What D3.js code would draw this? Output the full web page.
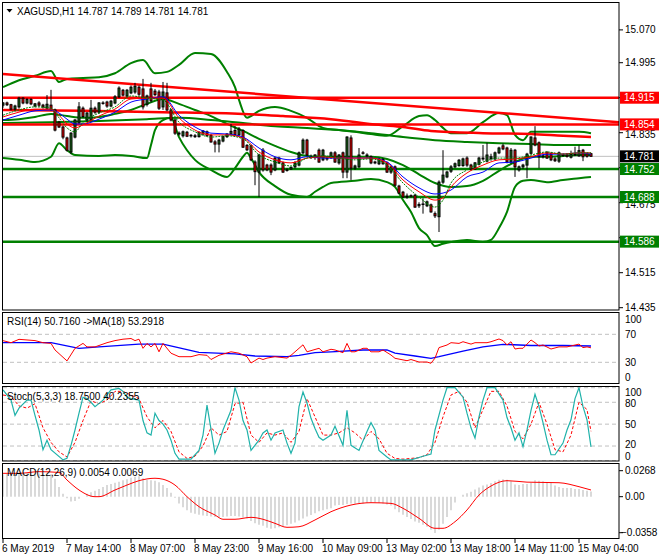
<!DOCTYPE html>
<html>
<head>
<meta charset="utf-8" />
<script src="https://cdn.jsdelivr.net/npm/d3@7"></script>
<style>
  body { margin: 0; background: #fff; }
  text { font-family: "Liberation Sans", Arial, sans-serif; font-size: 10px; fill: #000; }
</style>
</head>
<body>
<script>
  // XAGUSD H1 candles (bar 0 = 6 May 2019 ... bar 147 = 15 May 07:00)
  var open = [14.898,14.903,14.899,14.889,14.894,14.914,14.903,14.911,14.896,14.903,14.898,14.891,14.898,14.887,14.859,14.848,14.823,14.791,14.825,14.859,
    14.891,14.864,14.864,14.891,14.882,14.903,14.905,14.896,14.903,14.917,14.932,14.919,14.926,14.928,14.939,14.935,14.900,14.935,14.930,14.928,
    14.894,14.926,14.887,14.864,14.834,14.828,14.836,14.828,14.828,14.826,14.832,14.837,14.829,14.814,14.809,14.816,14.826,14.832,14.840,14.830,
    14.840,14.806,14.805,14.768,14.745,14.795,14.761,14.761,14.750,14.777,14.766,14.750,14.752,14.757,14.761,14.789,14.818,14.780,14.778,14.795,
    14.773,14.776,14.778,14.789,14.766,14.789,14.745,14.823,14.754,14.757,14.789,14.784,14.780,14.768,14.764,14.774,14.766,14.745,14.757,14.713,
    14.699,14.690,14.691,14.692,14.668,14.671,14.668,14.670,14.650,14.643,14.722,14.734,14.747,14.757,14.760,14.760,14.777,14.761,14.752,14.763,
    14.775,14.770,14.776,14.775,14.789,14.805,14.800,14.768,14.795,14.750,14.757,14.761,14.788,14.823,14.812,14.780,14.790,14.787,14.775,14.770,
    14.784,14.784,14.779,14.786,14.782,14.795,14.787,14.787];
  var high = [14.905,14.906,14.901,14.899,14.917,14.916,14.914,14.914,14.903,14.907,14.901,14.921,14.933,14.890,14.862,14.851,14.826,14.836,14.866,14.905,
    14.895,14.882,14.910,14.895,14.905,14.907,14.908,14.910,14.921,14.941,14.935,14.935,14.943,14.949,14.943,14.958,14.922,14.949,14.935,14.933,
    14.951,14.949,14.890,14.867,14.838,14.840,14.839,14.832,14.832,14.838,14.841,14.840,14.832,14.818,14.821,14.828,14.834,14.855,14.850,14.848,
    14.843,14.809,14.808,14.772,14.787,14.800,14.764,14.765,14.780,14.780,14.769,14.754,14.757,14.770,14.792,14.822,14.821,14.785,14.786,14.799,
    14.798,14.780,14.792,14.793,14.786,14.792,14.827,14.829,14.762,14.800,14.793,14.788,14.783,14.771,14.778,14.777,14.769,14.760,14.760,14.716,
    14.702,14.696,14.694,14.695,14.676,14.685,14.680,14.673,14.655,14.726,14.795,14.748,14.761,14.767,14.775,14.778,14.781,14.764,14.768,14.780,
    14.807,14.812,14.787,14.792,14.803,14.810,14.803,14.800,14.798,14.760,14.764,14.789,14.827,14.850,14.815,14.784,14.793,14.790,14.779,14.792,
    14.788,14.787,14.794,14.803,14.806,14.798,14.790,14.789];
  var low = [14.892,14.896,14.886,14.885,14.890,14.900,14.900,14.898,14.893,14.894,14.890,14.888,14.885,14.838,14.846,14.820,14.792,14.786,14.822,14.855,
    14.869,14.860,14.861,14.878,14.878,14.899,14.892,14.893,14.900,14.914,14.918,14.916,14.923,14.924,14.919,14.888,14.895,14.904,14.919,14.887,
    14.887,14.884,14.861,14.830,14.828,14.824,14.825,14.824,14.823,14.824,14.829,14.826,14.812,14.790,14.790,14.813,14.823,14.830,14.828,14.827,
    14.800,14.793,14.770,14.715,14.688,14.746,14.747,14.738,14.747,14.764,14.743,14.746,14.750,14.753,14.758,14.786,14.782,14.775,14.773,14.766,
    14.770,14.771,14.775,14.766,14.762,14.731,14.731,14.727,14.750,14.754,14.785,14.778,14.763,14.763,14.761,14.762,14.743,14.741,14.712,14.695,
    14.686,14.684,14.687,14.663,14.663,14.650,14.665,14.652,14.640,14.608,14.718,14.731,14.743,14.754,14.757,14.757,14.757,14.748,14.750,14.760,
    14.771,14.767,14.771,14.772,14.786,14.795,14.765,14.764,14.734,14.746,14.752,14.731,14.785,14.804,14.754,14.776,14.775,14.770,14.768,14.766,
    14.780,14.778,14.776,14.782,14.780,14.770,14.778,14.781];
  var close = [14.903,14.899,14.889,14.896,14.914,14.903,14.911,14.901,14.901,14.898,14.894,14.900,14.889,14.841,14.848,14.825,14.795,14.834,14.864,14.894,
    14.872,14.880,14.891,14.882,14.903,14.902,14.896,14.907,14.917,14.937,14.921,14.932,14.939,14.941,14.923,14.894,14.919,14.908,14.922,14.891,
    14.928,14.887,14.864,14.834,14.832,14.837,14.827,14.829,14.826,14.836,14.839,14.829,14.814,14.809,14.818,14.826,14.832,14.838,14.831,14.843,
    14.802,14.796,14.773,14.746,14.784,14.750,14.750,14.745,14.777,14.766,14.745,14.750,14.756,14.766,14.789,14.818,14.784,14.778,14.784,14.768,
    14.795,14.775,14.789,14.768,14.784,14.745,14.825,14.754,14.759,14.784,14.788,14.782,14.766,14.766,14.775,14.764,14.745,14.757,14.715,14.697,
    14.688,14.688,14.690,14.665,14.671,14.672,14.677,14.654,14.645,14.722,14.738,14.745,14.757,14.764,14.772,14.775,14.761,14.752,14.766,14.777,
    14.777,14.784,14.780,14.789,14.800,14.798,14.768,14.795,14.757,14.757,14.761,14.786,14.825,14.807,14.780,14.782,14.777,14.773,14.771,14.789,
    14.783,14.781,14.786,14.784,14.794,14.780,14.781,14.781];

  // Bollinger bands (20)
  var bbUpIdx = [0,4,8,12,14,16,20,24,28,32,35,38,41,44,48,52,56,58,59,61,62,64,68,72,76,80,84,88,92,96,100,104,106,108,110,112,116,120,124,126,128,130,132,136,140,144,147];
  var bbUp = [14.939,14.955,14.965,14.976,14.951,14.958,14.960,14.962,14.971,14.994,15.001,14.971,14.974,14.990,15.017,15.015,14.974,14.939,14.910,14.869,
    14.873,14.885,14.894,14.885,14.869,14.846,14.841,14.837,14.832,14.828,14.850,14.873,14.875,14.864,14.846,14.834,14.834,14.859,14.880,14.875,
    14.830,14.818,14.837,14.837,14.837,14.837,14.834];
  var bbLoIdx = [0,4,8,12,14,16,18,24,28,32,36,37,38,40,42,44,46,48,52,56,58,60,61,62,64,68,72,76,78,80,82,88,92,96,98,100,102,104,106,108,110,112,116,120,122,124,126,128,130,132,136,140,144,147];
  var bbLo = [14.777,14.773,14.768,14.780,14.811,14.795,14.784,14.782,14.784,14.782,14.777,14.807,14.841,14.864,14.869,14.825,14.795,14.773,14.750,14.734,
    14.754,14.780,14.789,14.777,14.745,14.713,14.693,14.688,14.700,14.711,14.720,14.725,14.729,14.722,14.711,14.681,14.654,14.617,14.601,14.576,
    14.581,14.585,14.590,14.585,14.590,14.617,14.654,14.711,14.725,14.727,14.722,14.727,14.731,14.734];
  var bbMidIdx = [0,4,8,12,16,20,24,28,32,36,40,44,48,52,56,60,64,68,72,76,80,88,92,96,100,104,108,112,116,120,124,128,132,136,140,144,147];
  var bbMid = [14.864,14.866,14.871,14.878,14.873,14.869,14.871,14.878,14.887,14.901,14.912,14.901,14.887,14.873,14.855,14.839,14.821,14.805,14.791,14.782,
    14.780,14.780,14.780,14.775,14.761,14.740,14.720,14.711,14.713,14.725,14.748,14.768,14.780,14.780,14.782,14.784,14.784];

  // slow averages
  var slowIdx = [0,12,24,36,44,52,60,68,76,84,92,100,108,116,124,132,140,147];
  var slowMa = [14.857,14.859,14.862,14.866,14.869,14.864,14.857,14.850,14.846,14.841,14.834,14.825,14.818,14.814,14.811,14.809,14.807,14.807];
  var redMaIdx = [0,20,40,60,70,82,94,100,107,120,132,140,147];
  var redMa = [14.887,14.885,14.882,14.878,14.873,14.866,14.853,14.848,14.839,14.834,14.832,14.828,14.825];

  // fast averages (green fastest, blue slowest)
  var maIdx = [0,4,8,12,14,16,18,20,24,28,32,36,40,44,48,52,56,60,64,68,72,76,80,84,88,92,96,100,104,108,110,112,116,120,124,128,132,136,140,144,147];
  var maG = [14.875,14.887,14.894,14.891,14.869,14.846,14.837,14.859,14.880,14.894,14.919,14.914,14.910,14.859,14.837,14.825,14.828,14.821,14.784,14.768,
    14.759,14.777,14.782,14.777,14.773,14.775,14.761,14.720,14.688,14.665,14.681,14.720,14.750,14.768,14.777,14.777,14.784,14.791,14.786,14.789,14.789];
  var maR = [14.871,14.882,14.889,14.889,14.875,14.855,14.846,14.853,14.873,14.889,14.912,14.914,14.914,14.869,14.841,14.830,14.830,14.823,14.791,14.773,
    14.766,14.777,14.780,14.777,14.777,14.777,14.766,14.727,14.700,14.681,14.686,14.711,14.743,14.761,14.773,14.775,14.780,14.789,14.786,14.789,14.789];
  var maB = [14.864,14.875,14.885,14.887,14.880,14.866,14.855,14.855,14.866,14.882,14.905,14.912,14.917,14.875,14.848,14.834,14.832,14.825,14.800,14.780,
    14.773,14.780,14.777,14.777,14.777,14.777,14.768,14.734,14.709,14.695,14.697,14.704,14.734,14.745,14.766,14.768,14.777,14.786,14.786,14.789,14.786];

  // levels and trendline
  var redLevels = [14.915, 14.854];
  var greenLevels = [14.752, 14.688, 14.586];
  var lastPrice = 14.781;
  var trendT = [0, 154];
  var trendP = [14.969, 14.859];
  var priceTicks = [15.070, 14.995, 14.915, 14.835, 14.755, 14.675, 14.595, 14.515, 14.435];
  var hiddenTicks = [14.915, 14.755, 14.595];   // fully under the coloured price boxes

  // RSI(14) and its MA(18)
  var rsiIdx = [0,2,4,8,10,12,13,16,18,20,21,23,26,28,30,32,33,34,35,36,37,38,39,40,42,44,47,49,51,52,54,57,59,61,62,64,65,66,68,71,
    72,75,76,79,80,82,83,85,86,87,88,90,91,92,94,95,97,98,101,102,104,106,107,108,109,111,112,114,115,117,118,121,122,124,125,126,127,128,129,130,
    132,133,134,135,137,139,141,144,145,146,147];
  var rsiVal = [60.9,58,62.8,61,58,57,47.6,32,50,57,52,52,58,61,63,64,61,63,50,57,52,57,45,57,43,38,38,41,40,34,40,45,43,38,29,36,34,36,38,36,
    40,55,45,50,45,48.6,47.6,43.7,57,45,45,50,50,45,45,47.6,40.4,35.7,32.3,34,30.4,30.4,28.6,36,51,54.7,58,57,59.4,56,58,58,59.4,63.3,61,54.7,59.4,49,50,50,
    61.9,58,53.3,54.7,49,52,52,56,51,52,50.7];
  var rsiMaIdx = [0,12,19,24,34,40,43,49,58,63,71,74,78,82,90,96,98,103,107,109,115,120,125,132,140,147];
  var rsiMa = [58,58,50,52,56,56,52,44.3,42,39,38,40,43.7,45,47.6,47.6,43,39,35.7,38,46,52,55.7,54,54,53.3];

  // Stochastic(5,3,3)
  var stochKIdx = [0,2,3,4,6,7,8,9,10,11,12,15,16,17,18,19,20,21,22,23,25,26,27,29,30,31,32,34,35,36,37,38,39,40,41,42,43,44,47,49,
    50,51,53,54,55,57,58,59,60,61,62,64,65,66,67,68,70,71,72,73,74,75,76,77,78,79,80,82,83,85,86,87,89,91,92,93,94,96,97,102,
    105,107,108,110,111,113,115,116,117,118,119,120,121,123,125,126,127,128,129,130,131,132,133,134,135,136,137,138,140,141,142,143,144,145,146,147];
  var stochK = [97,83,62,72,83,83,62,42,15,28,15,1,3,21,42,65,87,85,80,74,83,90,97,99,95,87,85,83,55,38,35,65,55,50,42,28,10,2,2,14,
    35,76,10,24,42,69,100,83,55,42,14,28,38,42,28,38,42,24,10,24,74,94,79,58,44,32,28,35,47,21,69,21,14,40,52,42,14,5,1,1,
    6,9,42,83,100,100,87,65,45,31,60,83,100,100,83,59,45,28,38,19,42,69,91,74,52,28,8,8,24,42,56,85,100,74,56,18.75];
  var stochDIdx = [0,2,4,6,8,10,12,14,16,18,20,22,24,26,28,30,32,34,36,38,40,42,44,46,48,50,52,54,56,58,60,62,64,66,68,70,72,74,76,78,
    80,82,84,86,88,90,92,94,96,98,100,104,106,108,110,112,114,116,118,120,122,124,126,128,130,132,134,136,138,140,142,144,146,147];
  var stochD = [90,88,75,72,78,45,25,12,5,25,55,82,78,83,95,95,90,85,60,45,55,40,12,3,6,20,45,35,40,78,80,35,25,38,35,38,25,40,85,60,
    35,35,38,45,38,28,40,30,10,3,2,4,8,25,60,90,95,80,45,70,95,95,75,40,30,50,80,50,15,12,35,80,70,40.2];

  // MACD(12,26,9): histogram per bar, signal read at points
  var macdHist = [0.0232,0.0235,0.0236,0.0237,0.0238,0.0240,0.0241,0.0241,0.0242,0.0240,
    0.0238,0.0236,0.0232,0.0185,0.0100,0.0030,-0.0015,-0.0050,-0.0045,-0.0020,
    0.0000,0.0030,0.0045,0.0060,0.0080,0.0100,0.0120,0.0130,0.0145,0.0155,
    0.0170,0.0180,0.0195,0.0205,0.0210,0.0190,0.0172,0.0170,0.0165,0.0150,
    0.0120,0.0090,0.0040,-0.0010,-0.0070,-0.0110,-0.0140,-0.0165,-0.0175,-0.0185,
    -0.0195,-0.0200,-0.0205,-0.0210,-0.0212,-0.0210,-0.0205,-0.0200,-0.0200,-0.0205,
    -0.0215,-0.0225,-0.0250,-0.0275,-0.0290,-0.0300,-0.0320,-0.0330,-0.0325,-0.0315,
    -0.0305,-0.0295,-0.0280,-0.0265,-0.0245,-0.0225,-0.0205,-0.0190,-0.0170,-0.0150,
    -0.0140,-0.0130,-0.0120,-0.0090,-0.0085,-0.0085,-0.0075,-0.0070,-0.0072,-0.0070,
    -0.0070,-0.0065,-0.0062,-0.0060,-0.0065,-0.0070,-0.0080,-0.0090,-0.0130,-0.0160,
    -0.0185,-0.0210,-0.0230,-0.0255,-0.0270,-0.0290,-0.0310,-0.0340,-0.0375,-0.0340,
    -0.0280,-0.0210,-0.0140,-0.0060,0.0000,0.0020,0.0035,0.0050,0.0075,0.0095,
    0.0115,0.0125,0.0140,0.0160,0.0175,0.0180,0.0175,0.0160,0.0125,0.0120,
    0.0130,0.0130,0.0140,0.0170,0.0165,0.0160,0.0150,0.0140,0.0115,0.0100,
    0.0090,0.0090,0.0090,0.0080,0.0078,0.0070,0.0062,0.0054];
  var sigIdx = [0,4,9,14,16,19,23,24,28,31,34,38,40,43,46,49,53,55,58,62,65,68,71,74,78,82,87,92,97,100,104,108,110,113,116,119,122,126,131,139,144,147];
  var sigVal = [0.0241,0.0241,0.0258,0.0250,0.0172,0.0069,0.0,0.0,0.0069,0.012,0.0165,0.019,0.018,0.012,0.0,-0.0103,-0.0189,-0.0233,-0.0233,-0.0213,
    -0.0233,-0.0275,-0.0316,-0.031,-0.024,-0.0155,-0.0086,-0.0062,-0.0069,-0.012,-0.0223,-0.0326,-0.0326,-0.0258,-0.0137,0.0017,0.011,0.0165,0.015,0.0144,
    0.0103,0.0069];

  // time axis
  var tickBars = [0,16,32,48,64,80,96,112,128,144];
  var tickText = ["6 May 2019","7 May 14:00","8 May 07:00","8 May 23:00","9 May 16:00","10 May 09:00","13 May 02:00","13 May 18:00","14 May 11:00","15 May 04:00"];

  //-------------------------------------------

  var W = 660, H = 560, R = 619;
  var svg = d3.select("body").append("svg").attr("width", W).attr("height", H);

  var x = d3.scaleLinear().domain([0, 147]).range([3, 591]);
  var yP = d3.scaleLinear().domain([14.435, 15.070]).range([307.7, 29.9]);
  var yR = d3.scaleLinear().domain([0, 100]).range([383.3, 313.3]);
  var yS = d3.scaleLinear().domain([0, 100]).range([460.6, 387.7]);
  var yM = d3.scaleLinear().domain([-0.0358, 0.0268]).range([531.4, 470.7]);

  var panels = [
    {id: "pMain", y0: 2.5, y1: 310},
    {id: "pRsi", y0: 312.5, y1: 383.5},
    {id: "pSto", y0: 386.5, y1: 461},
    {id: "pMacd", y0: 463.5, y1: 538.5}
  ];
  var defs = svg.append("defs");
  panels.forEach(function(p) {
    defs.append("clipPath").attr("id", p.id).append("rect")
        .attr("x", 2.5).attr("y", p.y0).attr("width", R - 2.5).attr("height", p.y1 - p.y0);
  });

  function pts(idx, vals) { return d3.zip(idx, vals); }
  function drawLine(g, data, ys, color, width, dash, curve) {
    var line = d3.line().x(function(d) { return x(d[0]); }).y(function(d) { return ys(d[1]); })
                 .curve(curve || d3.curveLinear);
    var p = g.append("path").datum(data).attr("d", line).attr("fill", "none")
             .attr("stroke", color).attr("stroke-width", width);
    if (dash) p.attr("stroke-dasharray", dash);
    return p;
  }

  // ---- main panel
  var gm = svg.append("g").attr("clip-path", "url(#pMain)");

  gm.append("line").attr("x1", 2).attr("x2", R).attr("y1", yP(lastPrice)).attr("y2", yP(lastPrice))
    .attr("stroke", "#c0c0c0").attr("stroke-width", 1);

  gm.selectAll(".glev").data(greenLevels).enter().append("line")
    .attr("x1", 2).attr("x2", R).attr("y1", function(d) { return yP(d); }).attr("y2", function(d) { return yP(d); })
    .attr("stroke", "#008000").attr("stroke-width", 2.5);

  var smooth = d3.curveMonotoneX;
  drawLine(gm, pts(bbUpIdx, bbUp), yP, "#008000", 2, null, smooth);
  drawLine(gm, pts(bbLoIdx, bbLo), yP, "#008000", 2, null, smooth);
  drawLine(gm, pts(bbMidIdx, bbMid), yP, "#008000", 2, null, smooth);
  drawLine(gm, pts(slowIdx, slowMa), yP, "#008000", 2, null, smooth);

  gm.selectAll(".rlev").data(redLevels).enter().append("line")
    .attr("x1", 2).attr("x2", R).attr("y1", function(d) { return yP(d); }).attr("y2", function(d) { return yP(d); })
    .attr("stroke", "#ff0000").attr("stroke-width", 2.5);
  drawLine(gm, pts(trendT, trendP), yP, "#ff0000", 2.5);
  drawLine(gm, pts(redMaIdx, redMa), yP, "#ff0000", 2.5, null, smooth);

  // candles
  var bars = d3.range(open.length);
  gm.selectAll(".wick").data(bars).enter().append("line")
    .attr("x1", function(i) { return x(i); }).attr("x2", function(i) { return x(i); })
    .attr("y1", function(i) { return yP(high[i]); }).attr("y2", function(i) { return yP(low[i]); })
    .attr("stroke", "#000").attr("stroke-width", 1);
  gm.selectAll(".body").data(bars).enter().append("rect")
    .attr("x", function(i) { return x(i) - 1; })
    .attr("width", 2)
    .attr("y", function(i) { return yP(Math.max(open[i], close[i])); })
    .attr("height", function(i) { return Math.max(0.5, Math.abs(yP(open[i]) - yP(close[i]))); })
    .attr("fill", function(i) { return close[i] > open[i] ? "#1c6e1c" : (close[i] < open[i] ? "#ff0000" : "#000"); })
    .attr("stroke", "#000").attr("stroke-width", 1);

  drawLine(gm, pts(maIdx, maB), yP, "#0000ff", 1, null, smooth);
  drawLine(gm, pts(maIdx, maR), yP, "#ff0000", 1, null, smooth);
  drawLine(gm, pts(maIdx, maG), yP, "#008000", 1, "2,1", smooth);

  svg.append("path").attr("d", "M6.5,9 L12.5,9 L9.5,12.5 Z").attr("fill", "#000");
  svg.append("text").attr("x", 17).attr("y", 14.5)
     .text("XAGUSD,H1  " + [open[147], high[147], low[147], close[147]].map(d3.format(".3f")).join(" "));

  // ---- RSI
  var gr = svg.append("g").attr("clip-path", "url(#pRsi)");
  gr.selectAll(".lv").data([70, 30]).enter().append("line")
    .attr("x1", 3).attr("x2", R).attr("y1", function(d) { return yR(d); }).attr("y2", function(d) { return yR(d); })
    .attr("stroke", "#c0c0c0").attr("stroke-dasharray", "4,3");
  drawLine(gr, pts(rsiMaIdx, rsiMa), yR, "#0000ff", 1.3);
  drawLine(gr, pts(rsiIdx, rsiVal), yR, "#ff0000", 1);
  svg.append("text").attr("x", 7).attr("y", 325).text("RSI(14) 50.7160  ->MA(18) 53.2918");

  // ---- Stochastic
  var gs = svg.append("g").attr("clip-path", "url(#pSto)");
  gs.selectAll(".lv").data([100, 80, 50, 20, 0]).enter().append("line")
    .attr("x1", 3).attr("x2", R).attr("y1", function(d) { return yS(d); }).attr("y2", function(d) { return yS(d); })
    .attr("stroke", "#c0c0c0").attr("stroke-dasharray", "4,3");
  drawLine(gs, pts(stochDIdx, stochD), yS, "#ff0000", 1, "3,2");
  drawLine(gs, pts(stochKIdx, stochK), yS, "#20b2aa", 1.2);
  svg.append("text").attr("x", 7).attr("y", 399.5).text("Stoch(5,3,3) 18.7500 40.2355");

  // ---- MACD
  var gd = svg.append("g").attr("clip-path", "url(#pMacd)");
  gd.selectAll(".hb").data(bars).enter().append("line")
    .attr("x1", function(i) { return x(i); }).attr("x2", function(i) { return x(i); })
    .attr("y1", yM(0)).attr("y2", function(i) { return yM(macdHist[i]); })
    .attr("stroke", "#c0c0c0").attr("stroke-width", 1.2);
  drawLine(gd, pts(sigIdx, sigVal), yM, "#ff0000", 1, null, smooth);
  svg.append("text").attr("x", 7).attr("y", 476).text("MACD(12,26,9) 0.0054 0.0069");

  // ---- frames
  panels.forEach(function(p) {
    svg.append("rect").attr("x", 2.5).attr("y", p.y0).attr("width", R - 2.5).attr("height", p.y1 - p.y0)
       .attr("fill", "none").attr("stroke", "#000").attr("stroke-width", 1);
  });

  // ---- right axes
  priceTicks.forEach(function(v) {
    var yy = yP(v);
    svg.append("line").attr("x1", R).attr("x2", R + 4).attr("y1", yy).attr("y2", yy).attr("stroke", "#000");
    if (hiddenTicks.indexOf(v) < 0)
      svg.append("text").attr("x", 625).attr("y", yy + (v === 14.835 ? 1.5 : v === 14.675 ? 1.5 : 0))
         .attr("dy", "0.35em").text(d3.format(".3f")(v));
  });
  svg.append("text").attr("x", 625).attr("y", 319).attr("dy", "0.35em").text("100");
  svg.append("text").attr("x", 625).attr("y", yR(70)).attr("dy", "0.35em").text("70");
  svg.append("text").attr("x", 625).attr("y", yR(30)).attr("dy", "0.35em").text("30");
  svg.append("text").attr("x", 625).attr("y", 377.5).attr("dy", "0.35em").text("0");
  svg.append("text").attr("x", 625).attr("y", 392).attr("dy", "0.35em").text("100");
  svg.append("text").attr("x", 625).attr("y", yS(80) + 1).attr("dy", "0.35em").text("80");
  svg.append("text").attr("x", 625).attr("y", yS(50)).attr("dy", "0.35em").text("50");
  svg.append("text").attr("x", 625).attr("y", 444.5).attr("dy", "0.35em").text("20");
  svg.append("text").attr("x", 625).attr("y", 456).attr("dy", "0.35em").text("0");
  [0.0268, 0, -0.0358].forEach(function(v) {
    var yy = v === -0.0358 ? 532.7 : yM(v);
    svg.append("line").attr("x1", R).attr("x2", R + 4).attr("y1", yy).attr("y2", yy).attr("stroke", "#000");
    svg.append("text").attr("x", v < 0 ? 621 : 625).attr("y", yy).attr("dy", "0.35em")
       .text(v === 0 ? "0.00" : d3.format(".4f")(v));
  });

  // price boxes
  function priceBox(v, color) {
    var yy = yP(v);
    svg.append("rect").attr("x", 620).attr("y", yy - 6).attr("width", 39).attr("height", 12).attr("fill", color);
    svg.append("text").attr("x", 624).attr("y", yy).attr("dy", "0.35em").style("fill", "#fff").text(d3.format(".3f")(v));
  }
  redLevels.forEach(function(v) { priceBox(v, "#ff0000"); });
  greenLevels.forEach(function(v) { priceBox(v, "#008000"); });
  priceBox(lastPrice, "#000");

  // ---- time axis
  tickBars.forEach(function(b, k) {
    svg.append("line").attr("x1", x(b)).attr("x2", x(b)).attr("y1", 538.5).attr("y2", 543).attr("stroke", "#000");
    svg.append("text").attr("x", x(b) - 1).attr("y", 552).text(tickText[k]);
  });
</script>
</body>
</html>
